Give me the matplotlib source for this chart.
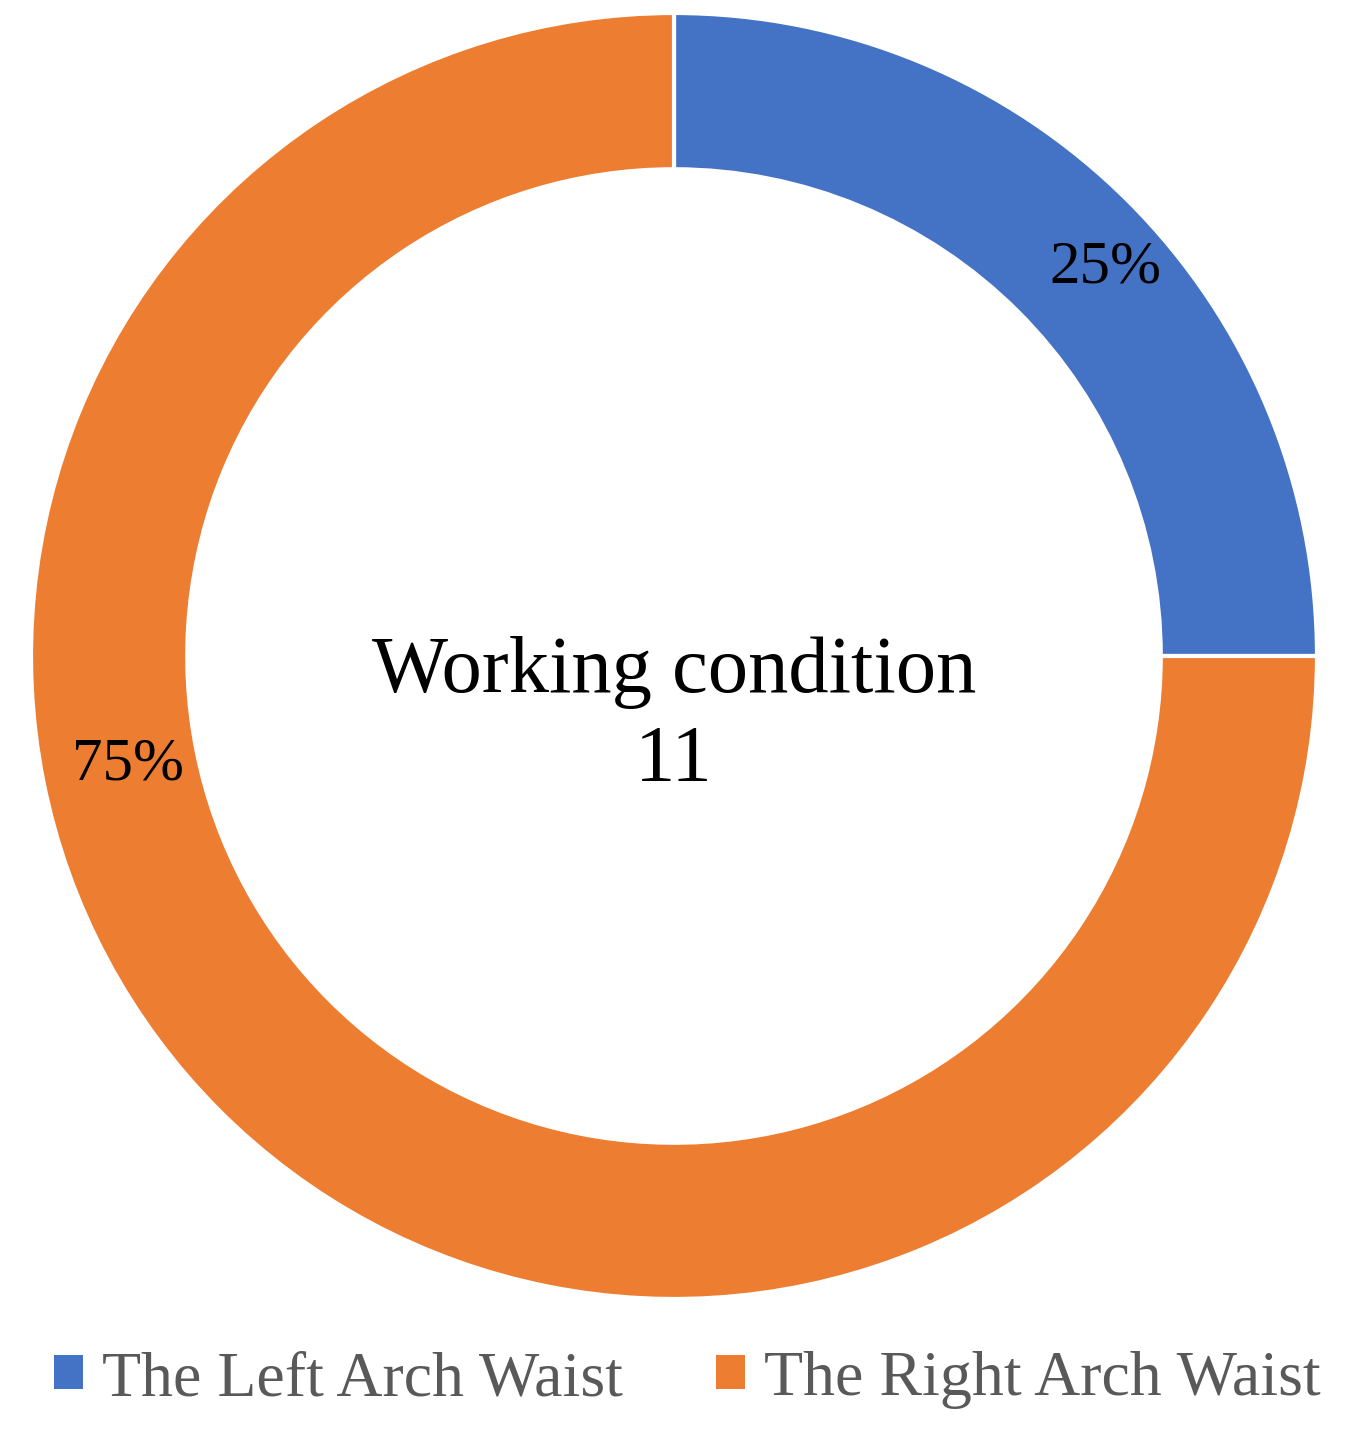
import matplotlib
matplotlib.use("Agg")
import matplotlib.pyplot as plt
from matplotlib.patches import Patch
import numpy as np

categories = ["The Left Arch Waist", "The Right Arch Waist"]
values = [25, 75]
colors = ["#4472C4", "#ED7D31"]
center_text = "Working condition\n11"

plt.rcParams['font.family'] = ['Liberation Serif', 'DejaVu Serif']

W, H = 1348, 1430
fig = plt.figure(figsize=(W/100, H/100), dpi=100)
R = 643
cx, cy = 674, H - 656
ax = fig.add_axes([(cx - R)/W, (cy - R)/H, 2*R/W, 2*R/H])

wedges, _ = ax.pie(values, colors=colors, startangle=90, counterclock=False,
                   radius=1.0,
                   wedgeprops=dict(width=0.243, edgecolor='white', linewidth=3))
ax.set_xlim(-1, 1)
ax.set_ylim(-1, 1)
ax.set_aspect('equal')
ax.axis('off')

# data labels (positions as in reference)
label_pos = [(42.0, 0.902), (191.3, 0.866)]
for v, (ang, r) in zip(values, label_pos):
    a = np.deg2rad(ang)
    ax.text(r*np.cos(a), r*np.sin(a), f"{v}%", ha='center', va='center',
            fontsize=44, color='black')

ax.text(0, -0.095, center_text, ha='center', va='center', fontsize=58,
        color='black', linespacing=1.3)

handles = [Patch(facecolor=c, edgecolor='none') for c in colors]
leg = fig.legend(handles, categories, loc='center', bbox_to_anchor=(0.51, 1 - 1380/H),
                 ncol=2, frameon=False, fontsize=46, handlelength=0.45, handleheight=0.45,
                 handletextpad=0.3, columnspacing=1.45)
for t in leg.get_texts():
    t.set_color('#595959')

fig.savefig("out.png", dpi=100, facecolor='white')
